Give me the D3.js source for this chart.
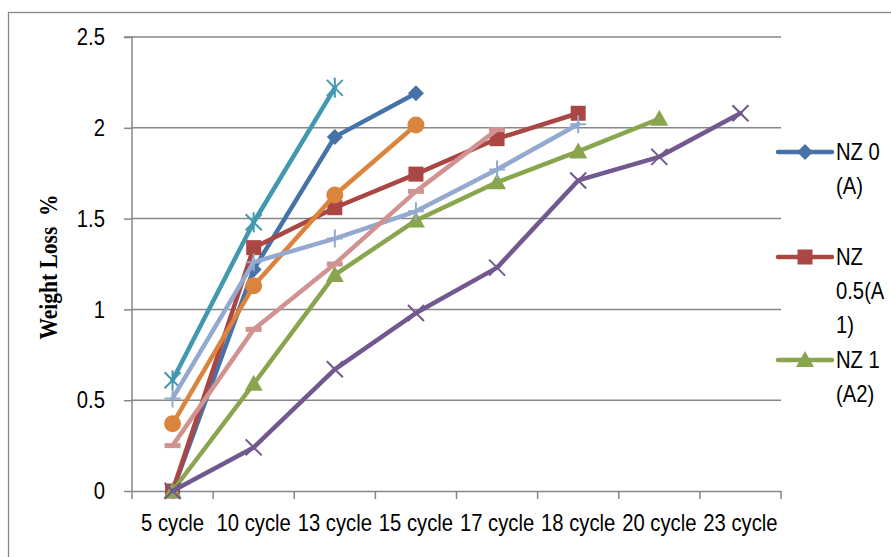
<!DOCTYPE html>
<html><head><meta charset="utf-8">
<script src="https://cdn.jsdelivr.net/npm/d3@7"></script>
<style>body{margin:0;background:#fff}svg{display:block}</style>
</head><body><svg id="c" width="891" height="557"></svg>
<script>
const categories = ["5 cycle","10 cycle","13 cycle","15 cycle","17 cycle","18 cycle","20 cycle","23 cycle"];
const yTicks = [0,0.5,1,1.5,2,2.5];
const nz0   = [0, 1.22, 1.95, 2.19];
const nz05  = [0, 1.34, 1.56, 1.745, 1.94, 2.08];
const nz1   = [0, 0.59, 1.19, 1.49, 1.70, 1.87, 2.05];
const s4    = [0, 0.24, 0.67, 0.98, 1.23, 1.71, 1.84, 2.08];
const s5    = [0.61, 1.48, 2.22];
const s6    = [0.37, 1.13, 1.63, 2.015];
const s7    = [0.51, 1.26, 1.39, 1.54, 1.77, 2.02];
const s8    = [0.25, 0.89, 1.25, 1.65, 1.99];
const legendLines = [["NZ 0","(A)"],["NZ","0.5(A","1)"],["NZ 1","(A2)"]];
const seriesValues = [nz0,nz05,nz1,s4,s5,s6,s7,s8];
const colors = ["#4572A7","#AA4643","#89A54E","#71588F","#4198AF","#DB843D","#93A9CF","#D19392"];
const markers = ["diamond","square","triangle","x","star","circle","plus","dash"];

const svg = d3.select("#c");
const L=132,R=781,T=37,B=491;
const x = d3.scaleBand().domain(categories).range([L,R]);
const y = d3.scaleLinear().domain([0,2.5]).range([B,T]);
const grid="#868686";
const FONT="Liberation Sans, Arial", FS=23, SX=0.88;

svg.append("rect").attr("x",8.5).attr("y",12.5).attr("width",900).attr("height",600)
  .attr("fill","none").attr("stroke",grid).attr("stroke-width",1.3);

svg.append("g").selectAll("line").data(yTicks.filter(d=>d>0)).join("line")
  .attr("x1",L).attr("x2",R).attr("y1",d=>y(d)).attr("y2",d=>y(d))
  .attr("stroke",grid).attr("stroke-width",1.5);

// y axis
const ya = svg.append("g").attr("transform",`translate(${L},0)`)
  .call(d3.axisLeft(y).tickValues(yTicks).tickSize(8).tickFormat(""));
ya.select(".domain").attr("stroke",grid).attr("stroke-width",1.5).attr("d",`M-8,${T}H0V${B}`);
ya.selectAll(".tick line").attr("stroke",grid).attr("stroke-width",1.5);
svg.append("g").selectAll("text").data(yTicks).join("text")
  .attr("transform",d=>`translate(105,${y(d)}) scale(${SX},1)`)
  .attr("text-anchor","end").attr("dy","0.36em")
  .attr("font-family",FONT).attr("font-size",FS).text(d=>String(d));

// x axis
const xa = svg.append("g").attr("transform",`translate(0,${B})`)
  .call(d3.axisBottom(x).tickSize(0).tickFormat(""));
xa.select(".domain").attr("stroke",grid).attr("stroke-width",1.5);
xa.append("g").selectAll("line").data(d3.range(categories.length+1)).join("line")
  .attr("x1",i=>L+i*x.step()).attr("x2",i=>L+i*x.step()).attr("y1",0).attr("y2",8)
  .attr("stroke",grid).attr("stroke-width",1.5);
svg.append("g").selectAll("text").data(categories).join("text")
  .attr("transform",d=>`translate(${x(d)+x.bandwidth()/2},523) scale(${SX},1)`)
  .attr("text-anchor","middle").attr("dy","0.36em")
  .attr("font-family",FONT).attr("font-size",FS).text(d=>d);

// y title
svg.append("text").attr("transform","translate(57,267) rotate(-90) scale(0.86,1)")
  .attr("text-anchor","middle").attr("font-family","Liberation Serif, Times New Roman")
  .attr("font-weight","bold").attr("font-size",25).attr("xml:space","preserve").text("Weight Loss  %");

function drawMarker(g, type, color, cx, cy){
  const s=8;
  switch(type){
    case "diamond": g.append("path").attr("d",`M${cx},${cy-s}L${cx+s},${cy}L${cx},${cy+s}L${cx-s},${cy}Z`).attr("fill",color); break;
    case "square": g.append("rect").attr("x",cx-7.5).attr("y",cy-7.5).attr("width",15).attr("height",15).attr("fill",color); break;
    case "triangle": g.append("path").attr("d",`M${cx},${cy-9}L${cx+9},${cy+7}L${cx-9},${cy+7}Z`).attr("fill",color); break;
    case "circle": g.append("circle").attr("cx",cx).attr("cy",cy).attr("r",8.5).attr("fill",color); break;
    case "x": g.append("path").attr("d",`M${cx-8},${cy-8}L${cx+8},${cy+8}M${cx-8},${cy+8}L${cx+8},${cy-8}`).attr("stroke",color).attr("stroke-width",2); break;
    case "star": g.append("path").attr("d",`M${cx-8},${cy-8}L${cx+8},${cy+8}M${cx-8},${cy+8}L${cx+8},${cy-8}M${cx},${cy-10}V${cy+10}`).attr("stroke",color).attr("stroke-width",2); break;
    case "plus": g.append("path").attr("d",`M${cx-8},${cy}H${cx+8}M${cx},${cy-9}V${cy+9}`).attr("stroke",color).attr("stroke-width",2); break;
    case "dash": g.append("path").attr("d",`M${cx-8},${cy}H${cx+8}`).attr("stroke",color).attr("stroke-width",5); break;
  }
}

const line = d3.line().x((d,i)=>x(categories[i])+x.bandwidth()/2).y(d=>y(d));
seriesValues.forEach((vals,si)=>{
  const g = svg.append("g");
  g.append("path").attr("d",line(vals)).attr("fill","none").attr("stroke",colors[si])
    .attr("stroke-width",4.5).attr("stroke-linejoin","round").attr("stroke-linecap","round");
  vals.forEach((v,i)=>drawMarker(g,markers[si],colors[si],x(categories[i])+x.bandwidth()/2,y(v)));
});

// legend
const legY=[152,257,360];
legendLines.forEach((lines,i)=>{
  const g=svg.append("g");
  const cy=legY[i];
  g.append("line").attr("x1",778).attr("x2",832).attr("y1",cy).attr("y2",cy)
    .attr("stroke",colors[i]).attr("stroke-width",4.5).attr("stroke-linecap","round");
  drawMarker(g,markers[i],colors[i],805,cy);
  lines.forEach((t,j)=>g.append("text").attr("transform",`translate(836,${cy+j*34}) scale(${SX},1)`).attr("dy","0.36em")
    .attr("font-family",FONT).attr("font-size",FS).text(t));
});
</script></body></html>
